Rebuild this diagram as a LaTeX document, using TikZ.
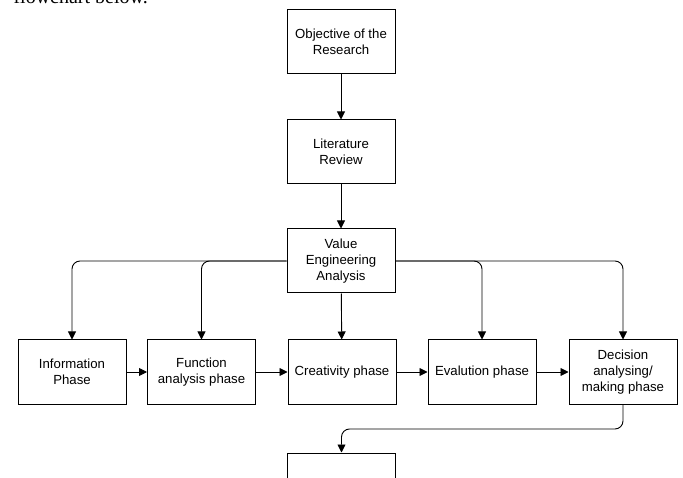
\documentclass[tikz,border=0pt]{standalone}
\usepackage{fontspec}
\setmainfont{Liberation Serif}
\setsansfont{Liberation Sans}
\usetikzlibrary{arrows.meta}
\begin{document}
\begin{tikzpicture}[x=1pt,y=-1pt,>={Triangle[width=8pt,length=8pt]},
    box/.style={draw,line width=1pt,minimum width=108pt,minimum height=64pt,inner sep=2pt,
        align=center,font=\sffamily\fontsize{13.2}{16}\selectfont},
    link/.style={->,line width=0.9pt,rounded corners=8pt}]
\useasboundingbox (0,0) rectangle (683,478);
\node[anchor=base west,font=\fontsize{20}{24}\selectfont] (intro) at (10,4) {flowchart below.};
% main column
\node[box] (obj) at (341,42) {Objective of the\\Research};
\node[box] (lit) at (341,152) {Literature\\Review};
\node[box] (vea) at (341,261) {Value\\Engineering\\Analysis};
% phases
\node[box] (info) at (72,372) {Information\\Phase};
\node[box] (func) at (201.5,372) {Function\\analysis phase};
\node[box] (crea) at (342,372) {Creativity phase};
\node[box] (eval) at (482,372) {Evalution phase};
\node[box] (dec) at (623,372) {Decision\\analysing/\\making phase};
\node[box] (next) at (341.5,485) {};
\coordinate (turn) at (623,429);
\draw[link](obj)--(lit);
\draw[link](lit)--(vea);
\draw[link](vea)--(crea);
\draw[link](vea.west)-|(info);
\draw[link](vea.west)-|(func);
\draw[link](vea.east)-|(eval);
\draw[link](vea.east)-|(dec);
\draw[link](info)--(func);
\draw[link](func)--(crea);
\draw[link](crea)--(eval);
\draw[link](eval)--(dec);
\draw[link](dec)--(turn)-|(next);
\end{tikzpicture}
\end{document}
